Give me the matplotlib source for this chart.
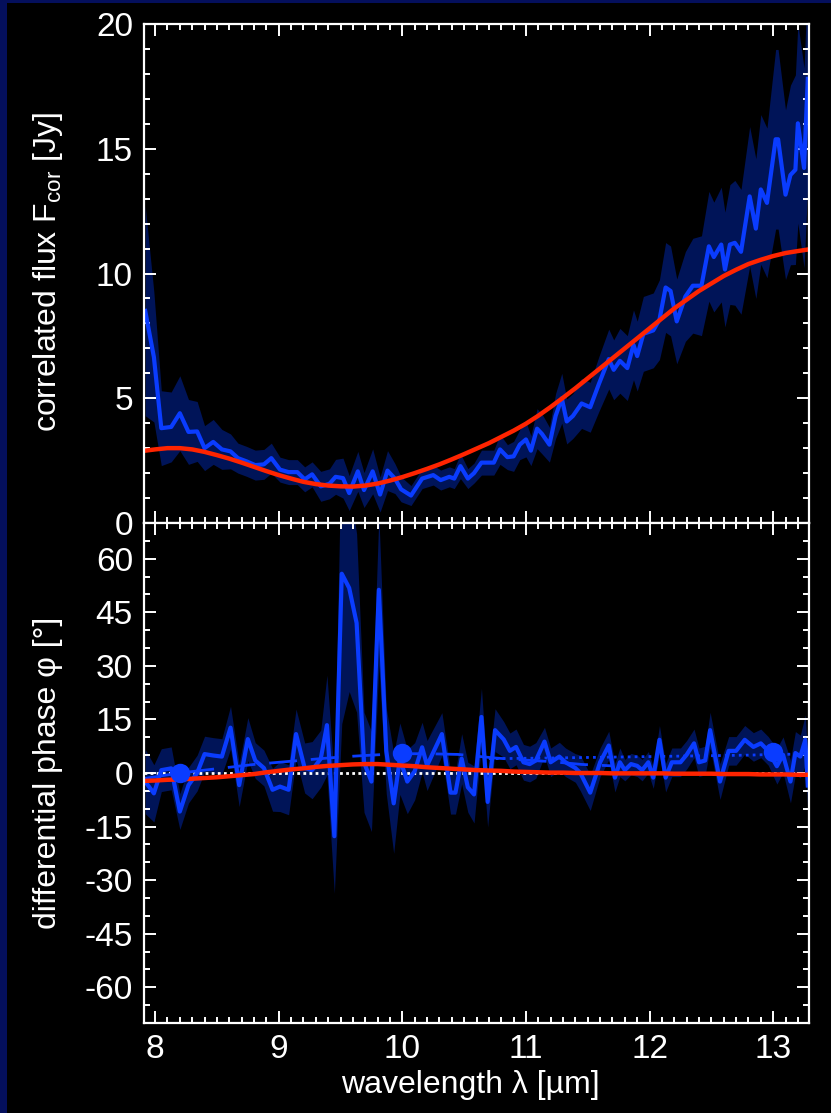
import numpy as np
import matplotlib.pyplot as plt
from matplotlib.patches import Rectangle
from matplotlib.ticker import MultipleLocator
from matplotlib.transforms import ScaledTranslation

plt.rcParams['font.family'] = ['Liberation Sans', 'DejaVu Sans']
plt.rcParams['mathtext.fontset'] = 'custom'
plt.rcParams['mathtext.rm'] = 'Liberation Sans'
plt.rcParams['mathtext.it'] = 'Liberation Sans:italic'
plt.rcParams['axes.unicode_minus'] = False

# correlated flux spectrum [Jy]
lam_flux = [7.92, 7.99, 8.05, 8.13, 8.20, 8.27, 8.34, 8.40, 8.47, 8.54,
            8.61, 8.67, 8.74, 8.81, 8.88, 8.94, 9.01, 9.08, 9.15, 9.21,
            9.27, 9.34, 9.41, 9.46, 9.52, 9.57, 9.64, 9.69, 9.76, 9.82,
            9.88, 9.94, 9.99, 10.07, 10.16, 10.25, 10.31, 10.38, 10.42, 10.47,
            10.53, 10.58, 10.64, 10.74, 10.79, 10.85, 10.90, 10.95, 11.00, 11.04,
            11.09, 11.13, 11.19, 11.24, 11.29, 11.33, 11.38, 11.45, 11.52, 11.59,
            11.67, 11.71, 11.76, 11.82, 11.87, 11.90, 11.95, 12.03, 12.08, 12.13,
            12.17, 12.22, 12.29, 12.35, 12.42, 12.48, 12.52, 12.58, 12.61, 12.65,
            12.69, 12.74, 12.81, 12.86, 12.90, 12.95, 13.02, 13.04, 13.10, 13.14,
            13.18, 13.20, 13.25, 13.28]
flux = [8.5, 6.65, 3.8, 3.85, 4.4, 3.65, 3.67, 3.0, 3.25, 2.95,
        2.87, 2.6, 2.47, 2.32, 2.35, 2.6, 2.14, 2.04, 2.04, 1.75,
        1.95, 1.47, 1.57, 1.85, 1.8, 1.2, 2.07, 1.32, 2.07, 1.14,
        2.1, 1.78, 1.35, 1.1, 1.78, 1.92, 1.72, 1.85, 1.78, 2.28,
        1.78, 2.0, 2.42, 2.42, 2.95, 2.64, 2.67, 3.14, 3.35, 2.9,
        3.78, 3.57, 3.14, 4.29, 5.0, 4.07, 4.29, 4.79, 4.64, 5.57,
        6.57, 6.14, 6.5, 6.21, 7.14, 6.69, 7.58, 7.72, 8.15, 9.44,
        9.3, 8.08, 9.08, 9.51, 9.51, 11.09, 10.66, 11.16, 10.16, 11.16,
        11.23, 10.87, 13.09, 11.8, 13.37, 12.83, 15.38, 15.38, 13.16, 13.95,
        14.16, 16.02, 14.23, 17.8]
flux_err = [4.2, 2.6, 1.5, 1.4, 1.5, 1.3, 1.2, 0.9, 0.9, 0.8,
            0.7, 0.6, 0.6, 0.6, 0.6, 0.6, 0.5, 0.5, 0.5, 0.5,
            0.5, 0.6, 0.6, 0.7, 0.8, 0.7, 0.8, 0.7, 0.9, 0.7,
            0.8, 0.6, 0.5, 0.4, 0.4, 0.4, 0.4, 0.4, 0.4, 0.5,
            0.4, 0.4, 0.5, 0.5, 0.6, 0.5, 0.6, 0.6, 0.7, 0.6,
            0.8, 0.8, 0.7, 0.9, 1.0, 0.9, 0.9, 1.0, 1.0, 1.1,
            1.2, 1.2, 1.3, 1.3, 1.4, 1.4, 1.5, 1.5, 1.6, 1.8,
            1.8, 1.7, 1.8, 1.9, 2.0, 2.2, 2.2, 2.3, 2.3, 2.4,
            2.5, 2.5, 2.8, 2.8, 3.0, 3.0, 3.6, 3.6, 3.4, 3.6,
            3.8, 4.0, 4.0, 4.2]

# model correlated flux and model phase
lam_model = [7.92, 8.0, 8.1, 8.2, 8.3, 8.4, 8.5, 8.6, 8.7, 8.8,
             8.9, 9.0, 9.1, 9.2, 9.3, 9.4, 9.5, 9.6, 9.7, 9.8,
             9.9, 10.0, 10.1, 10.2, 10.3, 10.4, 10.5, 10.6, 10.7, 10.8,
             10.9, 11.0, 11.1, 11.2, 11.3, 11.4, 11.5, 11.6, 11.7, 11.8,
             11.9, 12.0, 12.1, 12.2, 12.3, 12.4, 12.5, 12.6, 12.7, 12.8,
             12.9, 13.0, 13.1, 13.2, 13.28]
flux_model = [2.90, 2.95, 3.0, 3.0, 2.95, 2.85, 2.72, 2.58, 2.42, 2.25,
              2.08, 1.92, 1.78, 1.65, 1.56, 1.50, 1.47, 1.46, 1.50, 1.58,
              1.70, 1.84, 2.0, 2.17, 2.35, 2.55, 2.76, 2.98, 3.2, 3.45,
              3.7, 3.98, 4.3, 4.65, 5.02, 5.4, 5.8, 6.2, 6.6, 7.0,
              7.4, 7.8, 8.2, 8.6, 8.95, 9.3, 9.6, 9.9, 10.15, 10.38,
              10.55, 10.7, 10.82, 10.9, 10.96]
phase_model = [-2.2, -2.1, -1.9, -1.8, -1.6, -1.4, -1.2, -0.9, -0.6, -0.3,
               0.2, 0.6, 1.0, 1.3, 1.7, 2.0, 2.2, 2.4, 2.5, 2.5,
               2.3, 2.1, 1.9, 1.6, 1.4, 1.2, 1.0, 0.8, 0.7, 0.6,
               0.4, 0.3, 0.2, 0.1, 0.1, 0.0, 0.0, 0.0, -0.1, -0.1,
               -0.1, -0.1, -0.1, -0.2, -0.2, -0.2, -0.2, -0.3, -0.3, -0.3,
               -0.4, -0.4, -0.4, -0.5, -0.5]

# differential phase [deg]
lam_phase = [7.92, 7.99, 8.05, 8.13, 8.20, 8.27, 8.34, 8.40, 8.47, 8.54,
             8.61, 8.68, 8.75, 8.81, 8.88, 8.95, 9.01, 9.08, 9.14, 9.21,
             9.27, 9.34, 9.39, 9.45, 9.51, 9.57, 9.63, 9.69, 9.75, 9.81,
             9.87, 9.93, 9.98, 10.04, 10.10, 10.16, 10.20, 10.32, 10.39, 10.43,
             10.48, 10.53, 10.58, 10.64, 10.69, 10.75, 10.82, 10.87, 10.92, 10.98,
             11.03, 11.08, 11.15, 11.20, 11.27, 11.32, 11.40, 11.44, 11.52, 11.60,
             11.67, 11.72, 11.76, 11.80, 11.85, 11.90, 11.94, 11.99, 12.03, 12.08,
             12.13, 12.18, 12.25, 12.30, 12.36, 12.40, 12.45, 12.49, 12.57, 12.64,
             12.70, 12.77, 12.84, 12.90, 12.96, 13.03, 13.08, 13.14, 13.18, 13.22,
             13.26, 13.28]
phase = [-2.4, -5.7, 0.8, 1.3, -10.8, -3.4, 0.0, 5.3, 4.9, 4.6,
         12.7, -3.4, 9.5, 3.5, 1.4, -4.7, -3.8, -4.7, 10.9, 1.4,
         0.8, 4.0, 13.4, -17.7, 55.8, 51.8, 42.0, 3.0, -2.4, 51.3,
         6.2, -8.5, 4.0, -2.4, 0.5, 7.2, 2.1, 10.9, -5.5, -5.5,
         4.0, -4.0, -6.0, 15.7, -8.1, 12.0, 9.4, 6.2, 7.3, 3.0,
         2.5, 3.5, 8.8, 3.0, 4.6, 3.0, 1.4, 0.0, -5.5, 3.0,
         7.7, -1.3, 3.0, 0.8, 2.5, 2.0, 0.8, 3.0, -1.3, 9.3,
         -1.3, 3.0, 3.0, 5.1, 8.3, 3.0, 3.5, 12.0, -2.4, 6.2,
         6.2, 9.3, 7.3, 8.3, 6.2, 1.9, 5.1, -2.4, 5.6, 4.6,
         9.3, -3.5]
phase_err = [9.0, 8.0, 6.0, 6.0, 5.0, 5.0, 5.0, 5.0, 5.0, 5.0,
             6.0, 6.0, 6.0, 5.0, 5.0, 6.0, 7.0, 7.0, 7.0, 7.0,
             8.0, 8.0, 14.0, 16.0, 42.0, 29.0, 25.0, 14.0, 14.0, 21.0,
             12.0, 14.0, 10.0, 9.0, 8.0, 7.0, 7.0, 6.0, 6.0, 6.0,
             7.0, 7.0, 8.0, 8.0, 7.0, 6.0, 5.0, 5.0, 5.0, 5.0,
             5.0, 5.0, 4.0, 4.0, 4.0, 4.0, 4.0, 5.0, 5.0, 4.0,
             4.0, 4.0, 4.0, 3.0, 3.0, 3.0, 3.0, 3.0, 3.0, 4.0,
             4.0, 4.0, 4.0, 4.0, 4.0, 4.0, 4.0, 5.0, 5.0, 4.0,
             4.0, 4.0, 4.0, 4.0, 4.0, 5.0, 5.0, 6.0, 6.0, 6.0,
             7.0, 7.0]

# smooth phase fits and reference points
lam_fit = [7.92, 8.2, 8.4, 8.6, 8.8, 9.0, 9.2, 9.4, 9.6, 9.8,
           10.0, 10.2, 10.45, 10.75, 11.0, 11.2, 11.45, 11.7]
phase_fit = [-1.5, 0.0, 0.8, 1.6, 2.4, 3.0, 3.6, 4.2, 4.7, 5.1,
             5.4, 5.4, 5.2, 4.2, 3.6, 3.2, 2.4, 2.0]
lam_fit2 = [10.7, 11.2, 11.6, 12.0, 12.4, 12.8, 13.0, 13.28]
phase_fit2 = [4.0, 4.2, 4.4, 4.6, 4.8, 5.0, 5.2, 5.3]
lam_ref = [8.2, 10.0, 13.0]
phase_ref = [0.0, 5.5, 5.9]

c_line = '#0a3cff'
c_band = '#001458'
c_red = '#ff2400'
c_border = '#040f5c'

fig = plt.figure(figsize=(8.31, 11.13), dpi=100, facecolor='black')
fig.patches.append(Rectangle((0, 0), 7 / 831, 1, transform=fig.transFigure,
                             facecolor=c_border, edgecolor='none'))
fig.patches.append(Rectangle((0, 1 - 3 / 1113), 1, 3 / 1113, transform=fig.transFigure,
                             facecolor=c_border, edgecolor='none'))

x0, x1 = 144 / 831, 809 / 831
ax1 = fig.add_axes([x0, 1 - 523 / 1113, x1 - x0, 499 / 1113])
ax2 = fig.add_axes([x0, 1 - 1023 / 1113, x1 - x0, 500 / 1113], sharex=ax1)

for ax in (ax1, ax2):
    ax.set_facecolor('black')
    for s in ax.spines.values():
        s.set_color('white')
        s.set_linewidth(1.6)
    ax.tick_params(which='both', direction='in', top=True, right=True,
                   colors='white', labelsize=24, width=1.4, pad=8)
    ax.tick_params(which='major', length=8.5)
    ax.tick_params(which='minor', length=4.3)
    ax.xaxis.set_major_locator(MultipleLocator(1))
    ax.xaxis.set_minor_locator(MultipleLocator(0.1))

f = np.array(flux)
fe = np.array(flux_err)
ax1.fill_between(lam_flux, f - fe, f + fe, color=c_band, lw=0)
ax1.plot(lam_flux, f, color=c_line, lw=3)
ax1.plot(lam_model, flux_model, color=c_red, lw=3.2)
ax1.set_xlim(7.91, 13.29)
ax1.set_ylim(0, 20)
ax1.yaxis.set_major_locator(MultipleLocator(5))
ax1.yaxis.set_minor_locator(MultipleLocator(1))
ax1.tick_params(labelbottom=False)

p = np.array(phase)
pe = np.array(phase_err)
ax2.fill_between(lam_phase, p - pe, p + pe, color=c_band, lw=0)
ax2.axhline(0, color='white', lw=2, ls=(0, (1, 1.2)))
ax2.plot(lam_fit, phase_fit, color=c_line, lw=2, ls=(0, (10, 5)))
ax2.plot(lam_fit2, phase_fit2, color=c_line, lw=2, ls=(0, (1, 1.5)))
ax2.plot(lam_phase, p, color=c_line, lw=3)
ax2.plot(lam_model, phase_model, color=c_red, lw=3.2)
ax2.plot(lam_ref, phase_ref, 'o', color=c_line, ms=14, mec='none')
ax2.set_ylim(-70, 70)
ax2.set_yticks([-60, -45, -30, -15, 0, 15, 30, 45, 60])
ax2.yaxis.set_minor_locator(MultipleLocator(5))

# nudge the end labels of the flux axis inward
fig.canvas.draw()
ylabs = ax1.get_yticklabels()
ylabs[0].set_transform(ylabs[0].get_transform() + ScaledTranslation(0, 6 / 100, fig.dpi_scale_trans))
ylabs[-1].set_transform(ylabs[-1].get_transform() + ScaledTranslation(0, -6 / 100, fig.dpi_scale_trans))

fig.text(48 / 831, 1 - 272 / 1113, 'correlated flux F$_{\\mathrm{cor}}$ [Jy]', color='white',
         fontsize=23, rotation=90, ha='center', va='center')
fig.text(48 / 831, 1 - 773 / 1113, 'differential phase φ [°]', color='white',
         fontsize=23, rotation=90, ha='center', va='center')
fig.text(470 / 831, 1 - 1085 / 1113, 'wavelength λ [µm]', color='white',
         fontsize=23, ha='center', va='center')

fig.savefig('out.png', dpi=100, facecolor='black')
